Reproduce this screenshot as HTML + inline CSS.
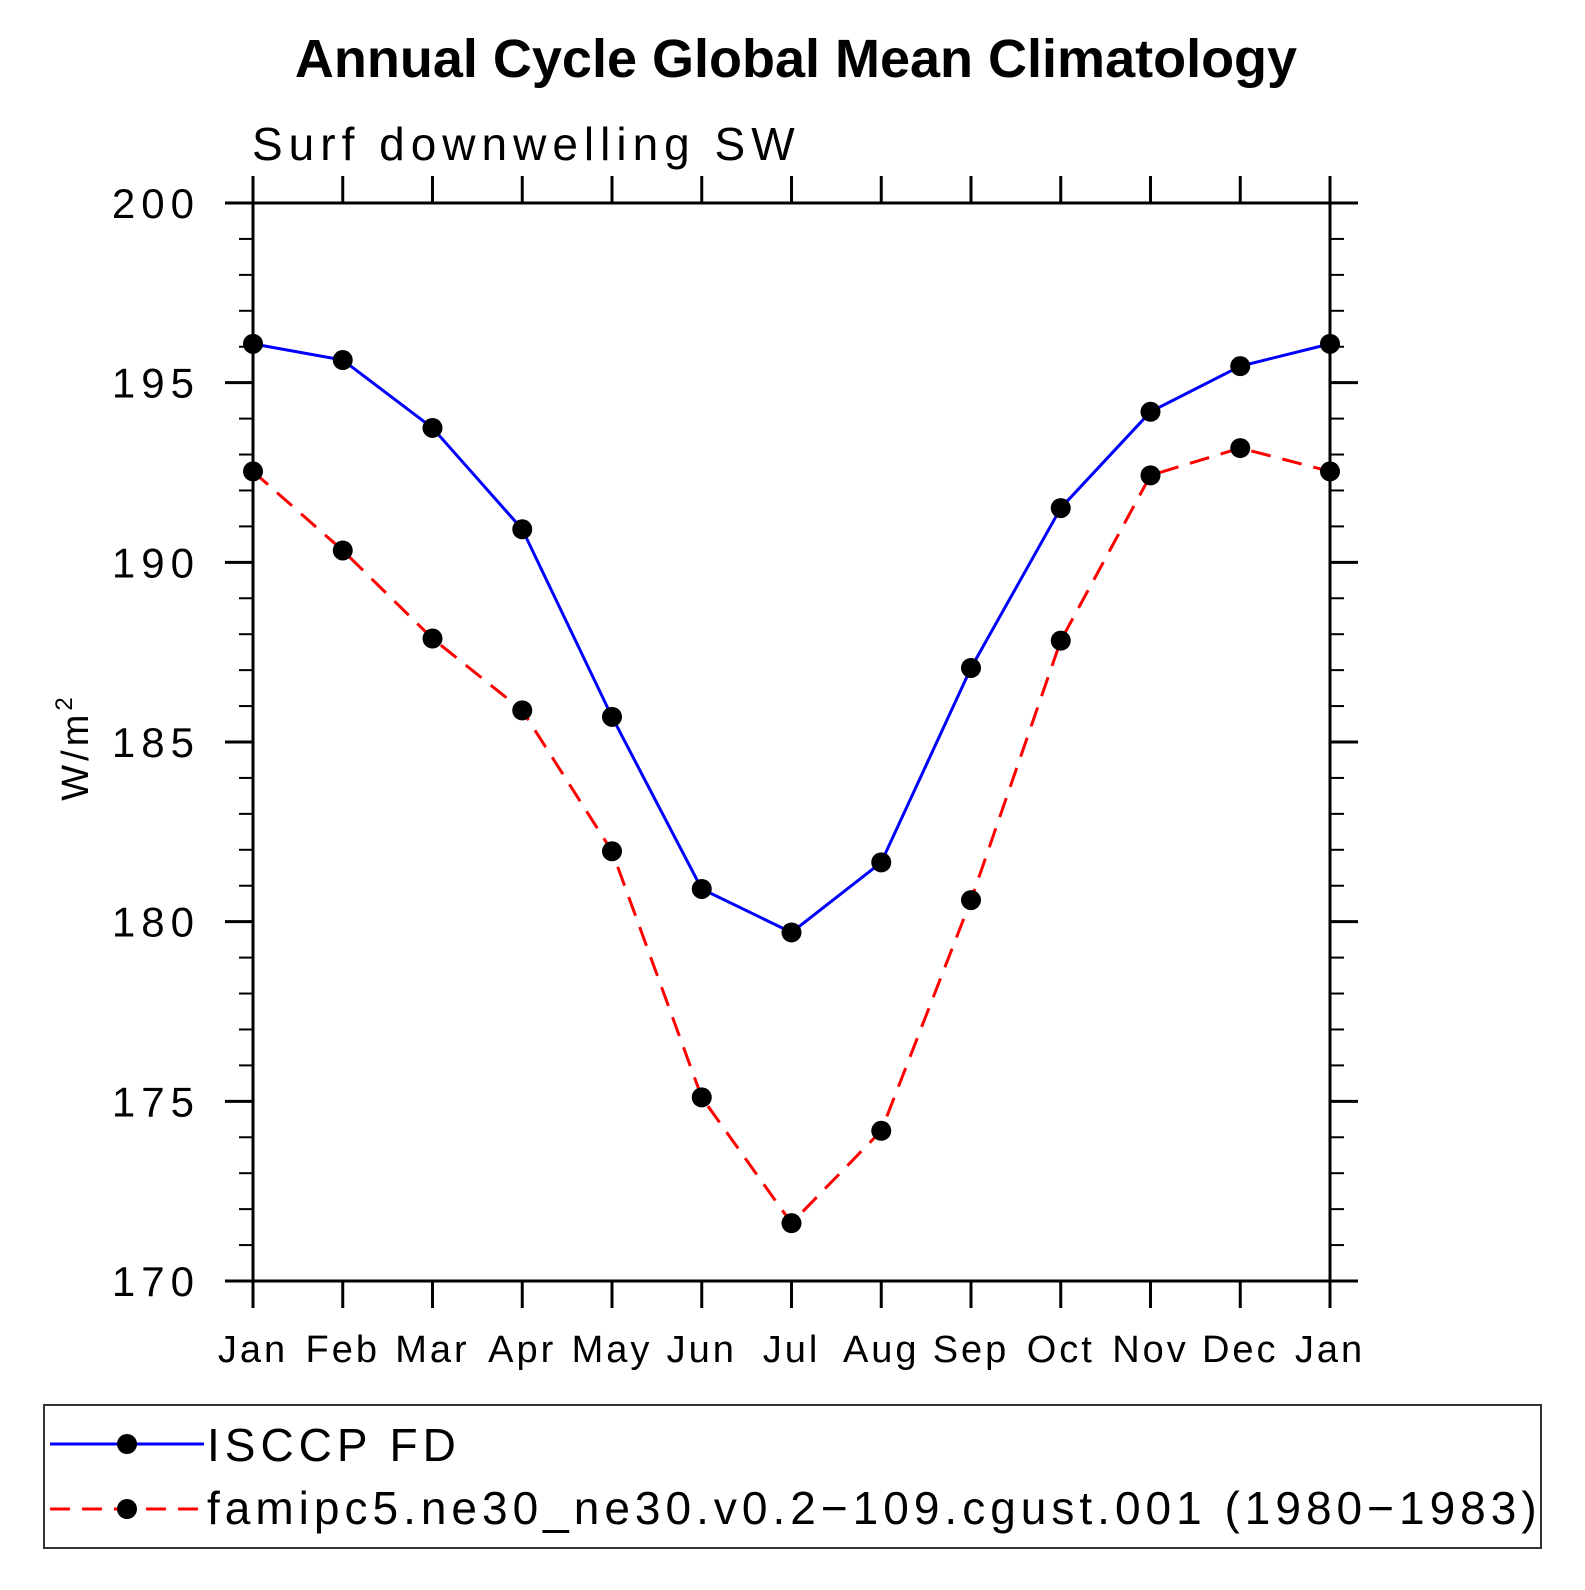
<!DOCTYPE html>
<html><head><meta charset="utf-8"><style>
html,body{margin:0;padding:0;background:#fff;}
svg text{font-family:"Liberation Sans",sans-serif;}
</style></head><body>
<svg id="chart" width="1585" height="1585" viewBox="0 0 1585 1585" xmlns="http://www.w3.org/2000/svg">
<text x="796" y="77" text-anchor="middle" font-size="54" font-weight="bold">Annual Cycle Global Mean Climatology</text>
<text x="252" y="160" font-size="46" letter-spacing="6">Surf downwelling SW</text>
<text transform="translate(88,747) rotate(-90)" text-anchor="middle" font-size="38" letter-spacing="4">W/m<tspan dy="-16" font-size="24">2</tspan></text>
<g id="axes"></g>
<g id="series"></g>
<rect x="44" y="1405" width="1497" height="143" fill="none" stroke="#333" stroke-width="2"/>
<g>
<line x1="50" y1="1444" x2="204" y2="1444" stroke="#0000ff" stroke-width="3"/>
<circle cx="127" cy="1444" r="10" fill="#000"/>
<text x="207" y="1461" font-size="46" letter-spacing="5">ISCCP FD</text>
</g>
<g>
<line x1="50" y1="1509" x2="204" y2="1509" stroke="#ff0000" stroke-width="3" stroke-dasharray="20,12"/>
<circle cx="127" cy="1509" r="10" fill="#000"/>
<text x="207" y="1524" font-size="46" letter-spacing="5">famipc5.ne30_ne30.v0.2−109.cgust.001 (1980−1983)</text>
</g>
</svg>
<script>
const months = ["Jan","Feb","Mar","Apr","May","Jun","Jul","Aug","Sep","Oct","Nov","Dec","Jan"];
const isccp = [196.08,195.63,193.74,190.92,185.7,180.91,179.7,181.65,187.06,191.51,194.19,195.46,196.08];
const model = [192.53,190.33,187.88,185.88,181.96,175.11,171.61,174.18,180.6,187.82,192.42,193.18,192.53];
const yTicks = [170,175,180,185,190,195,200];

const NS="http://www.w3.org/2000/svg";
const L=253,R=1330,T=203,B=1281,YMIN=170,YMAX=200;
const xs=i=>L+(R-L)*i/(months.length-1);
const ys=v=>B-(B-T)*(v-YMIN)/(YMAX-YMIN);
function mk(tag,attrs,parent){const e=document.createElementNS(NS,tag);for(const k in attrs)e.setAttribute(k,attrs[k]);parent.appendChild(e);return e;}
const ax=document.getElementById('axes');
const frame=mk('rect',{x:L,y:T,width:R-L,height:B-T,fill:'none',stroke:'#000','stroke-width':3},ax);


for(let v=YMIN;v<=YMAX;v++){
  const major=(v%5===0);const y=ys(v);const len=major?28:14;
  const t1=mk('line',{x1:L-len,y1:y,x2:L,y2:y,stroke:'#000','stroke-width':major?3:2},ax);
  
  
  const t2=mk('line',{x1:R,y1:y,x2:R+len,y2:y,stroke:'#000','stroke-width':major?3:2},ax);
  
  
}
yTicks.forEach(v=>{
  const t=mk('text',{x:200,y:ys(v)+15,'text-anchor':'end','font-size':42,'letter-spacing':6},ax);
  t.textContent=v;
  
  
});
months.forEach((m,i)=>{
  const x=xs(i);
  const a=mk('line',{x1:x,y1:B,x2:x,y2:B+27,stroke:'#000','stroke-width':3},ax);
  
  
  const b=mk('line',{x1:x,y1:T-27,x2:x,y2:T,stroke:'#000','stroke-width':3},ax);
  
  
  const t=mk('text',{x:x,y:1362,'text-anchor':'middle','font-size':38,'letter-spacing':3},ax);
  t.textContent=m;
  
  
});
const sg=document.getElementById('series');
function drawSeries(vals,color,dash,name){
  const pts=vals.map((v,i)=>xs(i)+','+ys(v)).join(' ');
  const pl=mk('polyline',{points:pts,fill:'none',stroke:color,'stroke-width':3,'stroke-dasharray':dash},sg);
  
  
  vals.forEach((v,i)=>{
    const c=mk('circle',{cx:xs(i),cy:ys(v),r:10,fill:'#000'},sg);
    
    
  });
}
drawSeries(isccp,'#0000ff','none','isccp');
drawSeries(model,'#ff0000','20,12','model');
</script>
</body></html>
